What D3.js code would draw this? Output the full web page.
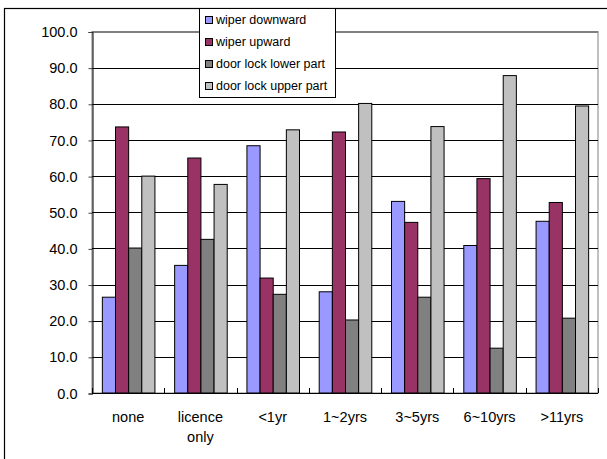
<!DOCTYPE html>
<html>
<head>
<meta charset="utf-8">
<script src="https://cdn.jsdelivr.net/npm/d3@7"></script>
<style>
  body { margin: 0; background: #fff; }
  text { font-family: "Liberation Sans", Arial, sans-serif; }
</style>
</head>
<body>
<svg class="chart" width="607" height="459"></svg>
<script>
// categories along x
const categories = ["none", "licence only", "<1yr", "1~2yrs", "3~5yrs", "6~10yrs", ">11yrs"]
const seriesNames = ["wiper downward", "wiper upward", "door lock lower part", "door lock upper part"]

// values
const wiperDown  = [26.5, 35.3, 68.4, 28.0, 53.0, 40.8, 47.5]
const wiperUp    = [73.6, 65.0, 31.8, 72.2, 47.2, 59.3, 52.7]
const lockLower  = [40.1, 42.5, 27.3, 20.2, 26.5, 12.4, 20.7]
const lockUpper  = [60.0, 57.7, 72.8, 80.1, 73.7, 87.8, 79.4]

const yTicks = [0, 10, 20, 30, 40, 50, 60, 70, 80, 90, 100]
const colors = ["#9999ff", "#993366", "#808080", "#c0c0c0"]

const allSeries = [wiperDown, wiperUp, lockLower, lockUpper]

const svg = d3.select(".chart")

// outer frame of the chart
svg.append("rect")
    .attr("x", 4.5)
    .attr("y", 8.5)
    .attr("width", 620)
    .attr("height", 470)
    .attr("fill", "#fff")
    .attr("stroke", "#000")
    .attr("stroke-width", 1.2)

const pLeft = 92, pRight = 598, pTop = 31.5, pBottom = 393

const y = d3.scaleLinear().domain([0, 100]).range([pBottom, pTop])
const x = d3.scaleBand().domain(categories).range([pLeft, pRight]).padding(0)

// each group is 4 bars, with 1.5 bar widths of gap
const barW = x.bandwidth() / 5.5
const sub = d3.scaleBand().domain(d3.range(4)).range([barW * 0.75, barW * 4.75])

// plot area border (grey)
svg.append("rect")
    .attr("x", pLeft)
    .attr("y", pTop)
    .attr("width", pRight - pLeft)
    .attr("height", pBottom - pTop)
    .attr("fill", "none")
    .attr("stroke", "#808080")

// gridlines
svg.selectAll("grid")
    .data(yTicks.slice(1))
    .enter()
    .append("line")
    .attr("x1", pLeft)
    .attr("x2", pRight)
    .attr("y1", d => Math.round(y(d)) + 0.5)
    .attr("y2", d => Math.round(y(d)) + 0.5)
    .attr("stroke", d => d == 100 ? "#808080" : "#000")

// bars
categories.forEach(function(c, i) {
    allSeries.forEach(function(s, j) {
        svg.append("rect")
            .attr("x", x(c) + sub(j) + 0.5)
            .attr("y", y(s[i]))
            .attr("width", sub.bandwidth())
            .attr("height", pBottom - y(s[i]))
            .attr("fill", colors[j])
            .attr("stroke", "#000")
            .attr("stroke-width", 1)
    })
})

// y axis
const yAxis = d3.axisLeft(y)
    .tickValues(yTicks)
    .tickFormat(d3.format(".1f"))
    .tickSize(4)
    .tickPadding(11)
const gy = svg.append("g")
    .attr("transform", "translate(" + (pLeft + 0.5) + ",0.5)")
    .call(yAxis)
gy.select(".domain").attr("stroke", "#000")
gy.selectAll("line").attr("stroke", "#444")
gy.selectAll("text")
    .attr("font-size", 14.5)
    .attr("fill", "#000")
    .style("font-family", "Liberation Sans, Arial, sans-serif")

// x axis line
svg.append("line")
    .attr("x1", pLeft)
    .attr("x2", pRight)
    .attr("y1", pBottom + 0.5)
    .attr("y2", pBottom + 0.5)
    .attr("stroke", "#000")

// x ticks at band boundaries, pointing up
svg.selectAll("xtick")
    .data(d3.range(categories.length + 1))
    .enter()
    .append("line")
    .attr("x1", i => Math.round(pLeft + i * x.step()) + 0.5)
    .attr("x2", i => Math.round(pLeft + i * x.step()) + 0.5)
    .attr("y1", pBottom)
    .attr("y2", pBottom - 5)
    .attr("stroke", "#000")

// category labels, "licence only" wraps
svg.selectAll("xlabel")
    .data(categories)
    .enter()
    .append("text")
    .attr("x", d => x(d) + x.bandwidth() / 2)
    .attr("y", 422)
    .attr("text-anchor", "middle")
    .attr("font-size", 14.5)
    .each(function(d) {
        const words = d == "licence only" ? ["licence", "only"] : [d]
        words.forEach((w, k) => {
            d3.select(this).append("tspan")
                .attr("x", x(d) + x.bandwidth() / 2)
                .attr("dy", k == 0 ? 0 : 20)
                .text(w)
        })
    })

// legend
const lg = svg.append("g")
lg.append("rect")
    .attr("x", 199.5)
    .attr("y", 8.5)
    .attr("width", 136)
    .attr("height", 89)
    .attr("fill", "#fff")
    .attr("stroke", "#000")

lg.selectAll("swatch")
    .data(seriesNames)
    .enter()
    .append("rect")
    .attr("x", 205.5)
    .attr("y", (d, i) => 16.5 + i * 22)
    .attr("width", 7)
    .attr("height", 7)
    .attr("fill", (d, i) => colors[i])
    .attr("stroke", "#000")

lg.selectAll("lab")
    .data(seriesNames)
    .enter()
    .append("text")
    .attr("x", 216)
    .attr("y", (d, i) => 24 + i * 22)
    .attr("font-size", 12.5)
    .text(d => d)
</script>
</body>
</html>
